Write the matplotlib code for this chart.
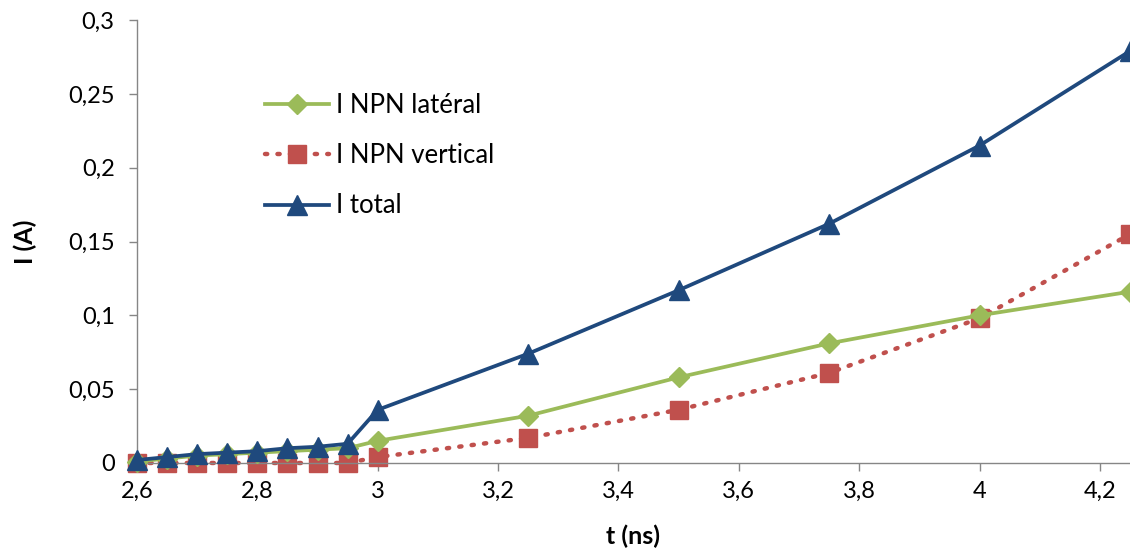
"""Courants NPN latéral / vertical / total en fonction du temps."""

import matplotlib
matplotlib.use("Agg")
import matplotlib.pyplot as plt
from matplotlib.ticker import FuncFormatter, MultipleLocator

# Data
t_ns = [2.6, 2.65, 2.7, 2.75, 2.8, 2.85, 2.9, 2.95, 3.0, 3.25, 3.5, 3.75, 4.0, 4.25]
i_lateral = [0.001, 0.003, 0.005, 0.006, 0.007, 0.008, 0.009, 0.010, 0.015, 0.032, 0.058, 0.081, 0.100, 0.116]
i_vertical = [0.0, 0.0, 0.0, 0.0, 0.0, 0.0, 0.0, 0.0, 0.004, 0.017, 0.036, 0.061, 0.098, 0.155]
i_total = [0.002, 0.004, 0.006, 0.007, 0.008, 0.010, 0.011, 0.013, 0.036, 0.074, 0.117, 0.162, 0.215, 0.279]

GREEN = "#9BBB59"
RED = "#C0504D"
BLUE = "#1F497D"
GREY = "#868686"

plt.rcParams["font.family"] = ["Lato", "DejaVu Sans"]


def comma(v, _pos):
    s = f"{v:.2f}".rstrip("0").rstrip(".")
    return s.replace(".", ",")


fig = plt.figure(figsize=(11.3, 5.57), dpi=100)
ax = fig.add_axes([0.1212, 0.1688, 0.8788, 0.7952])

ax.plot(t_ns, i_lateral, color=GREEN, lw=2.7, marker="D", ms=10.5,
        label="I NPN latéral", clip_on=False, zorder=3)
ax.plot(t_ns, i_vertical, color=RED, lw=3.2, linestyle=(0, (0.5, 2.3)),
        dash_capstyle="round", marker="s", ms=13, label="I NPN vertical",
        clip_on=False, zorder=2)
ax.plot(t_ns, i_total, color=BLUE, lw=2.7, marker="^", ms=15,
        label="I total", clip_on=False, zorder=4)

ax.set_xlim(2.6, 4.25)
ax.set_ylim(0, 0.3)
ax.xaxis.set_major_locator(MultipleLocator(0.2))
ax.yaxis.set_major_locator(MultipleLocator(0.05))
ax.xaxis.set_major_formatter(FuncFormatter(comma))
ax.yaxis.set_major_formatter(FuncFormatter(comma))

for side in ("top", "right"):
    ax.spines[side].set_visible(False)
for side in ("left", "bottom"):
    ax.spines[side].set_color(GREY)
    ax.spines[side].set_linewidth(1)
ax.tick_params(axis="both", colors=GREY, labelcolor="black", labelsize=17,
               length=6, width=1, direction="out")
ax.tick_params(axis="x", pad=7)
ax.tick_params(axis="y", pad=10)

ax.set_xlabel("t (ns)", fontsize=18, fontweight="bold", labelpad=16)
ax.set_ylabel("I (A)", fontsize=18, fontweight="bold", labelpad=22)

ax.legend(loc="upper left", bbox_to_anchor=(0.129, 0.835), frameon=False,
          fontsize=18.5, handlelength=2.5, handletextpad=0.25,
          labelspacing=0.98, borderpad=0, borderaxespad=0)

fig.savefig("out.png", dpi=100)
